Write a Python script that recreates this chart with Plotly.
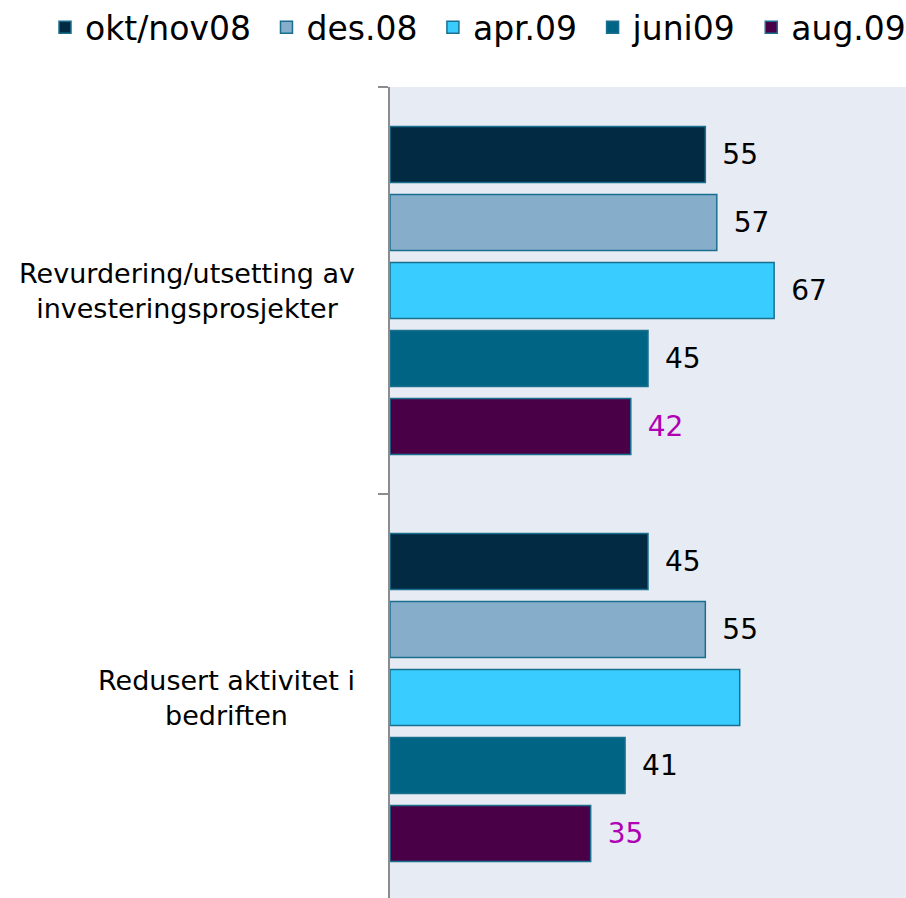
import plotly.graph_objects as go

categories = ["Revurdering/utsetting av<br>investeringsprosjekter", "Redusert aktivitet i<br>bedriften"]
series_names = ["okt/nov08", "des.08", "apr.09", "juni09", "aug.09"]
okt_nov08 = [55, 45]
des08 = [57, 55]
apr09 = [67, 61]
juni09 = [45, 41]
aug09 = [42, 35]
okt_nov08_labels = ["55", "45"]
des08_labels = ["57", "55"]
apr09_labels = ["67", ""]
juni09_labels = ["45", "41"]
aug09_labels = ["42", "35"]

values = [okt_nov08, des08, apr09, juni09, aug09]
labels = [okt_nov08_labels, des08_labels, apr09_labels, juni09_labels, aug09_labels]
colors = ["#022A43", "#86AECB", "#38CCFF", "#006585", "#4A0046"]
label_colors = ["#000000", "#000000", "#000000", "#000000", "#B000B4"]
FONT = "DejaVu Sans"

fig = go.Figure()
n = len(series_names)
for i, (name, vals, labs, col, lcol) in enumerate(zip(series_names, values, labels, colors, label_colors)):
    fig.add_trace(go.Bar(
        y=categories, x=vals, name=name + ("\u00a0" if i < n - 1 else ""), orientation="h",
        marker=dict(color=col, line=dict(color="#1A6F8F", width=1.5)),
        text=[("\u2002" + t) if t else "" for t in labs],
        texttemplate="%{text}",
        textposition="outside", constraintext="none", cliponaxis=False,
        textfont=dict(family=FONT, size=28, color=lcol),
        hoverinfo="skip",
    ))

for cat in categories:
    fig.add_annotation(
        x=0, xref="paper", y=cat, yref="y", text=cat, showarrow=False,
        xanchor="right", xshift=-33, align="center",
        font=dict(family=FONT, size=27, color="#000000"),
    )

fig.update_layout(
    width=906, height=898,
    margin=dict(l=390, r=0, t=87, b=0, autoexpand=False),
    paper_bgcolor="#FFFFFF", plot_bgcolor="#E7EBF3",
    barmode="group", bargap=0.1646, bargroupgap=0.176,
    showlegend=True,
    legend=dict(orientation="h", xref="paper", yref="paper",
                x=-0.6686, y=1.108, xanchor="left", yanchor="top",
                font=dict(family=FONT, size=33, color="#000000"),
                traceorder="normal", itemclick=False, itemdoubleclick=False),
    font=dict(family=FONT),
)
fig.update_xaxes(range=[0, 90], showgrid=False, zeroline=False, showticklabels=False,
                 showline=False, ticks="")
fig.update_yaxes(type="category", range=[1.4926, -0.5], showgrid=False, zeroline=False,
                 showticklabels=False, showline=True, linecolor="#8C8C8C", linewidth=1.5,
                 ticks="outside", ticklen=10, tickwidth=1.5, tickcolor="#8C8C8C",
                 tickson="boundaries")

fig.write_html("out.html", config={"displayModeBar": False},
               post_script="document.body.style.margin='0';document.body.style.overflow='hidden';")
